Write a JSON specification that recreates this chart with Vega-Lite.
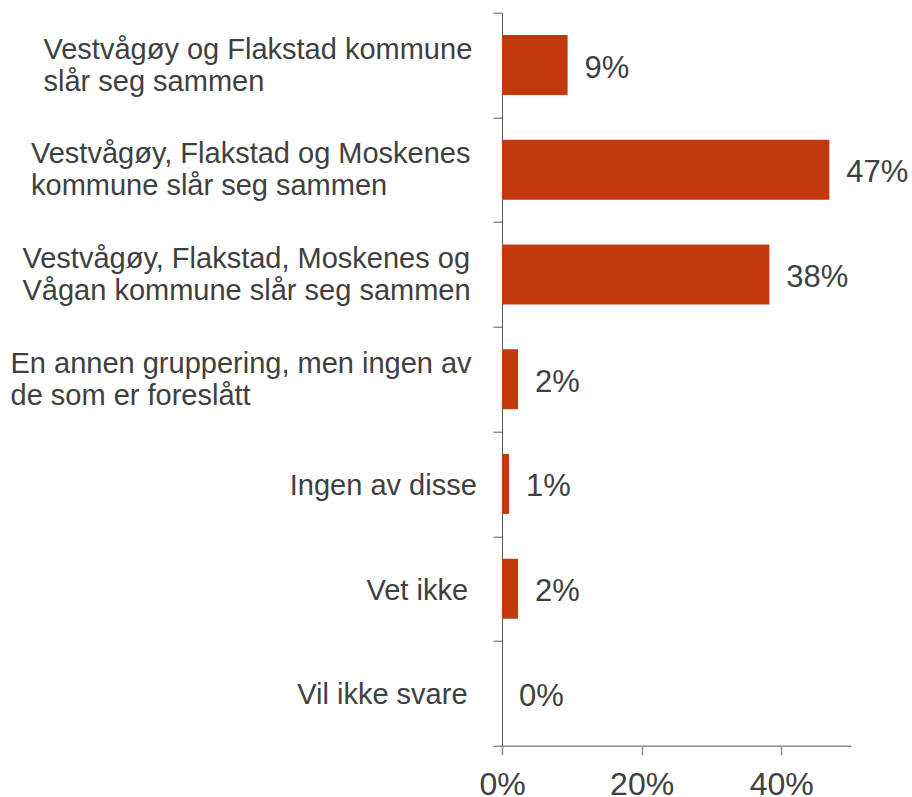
{
  "$schema": "https://vega.github.io/schema/vega-lite/v6.json",
  "width": 349,
  "height": 733,
  "autosize": {"type": "none"},
  "padding": {"left": 502, "top": 12.7, "right": 61, "bottom": 51.3},
  "background": "white",
  "config": {"view": {"stroke": null}, "font": "Liberation Sans"},
  "data": {
    "values": [
      {"kategori": "Vestvågøy og Flakstad kommune|slår seg sammen", "andel": 0.094},
      {"kategori": "Vestvågøy, Flakstad og Moskenes|kommune slår seg sammen", "andel": 0.469},
      {"kategori": "Vestvågøy, Flakstad, Moskenes og|Vågan kommune slår seg sammen", "andel": 0.383},
      {"kategori": "En annen gruppering, men ingen av|de som er foreslått", "andel": 0.023},
      {"kategori": "Ingen av disse", "andel": 0.010},
      {"kategori": "Vet ikke ", "andel": 0.023},
      {"kategori": "Vil ikke svare ", "andel": 0.0}
    ]
  },
  "encoding": {
    "y": {
      "field": "kategori",
      "type": "nominal",
      "sort": null,
      "scale": {"paddingInner": 0, "paddingOuter": 0},
      "axis": {
        "title": null,
        "tickBand": "extent",
        "labelExpr": "split(datum.label, '|')",
        "labelAlign": "left",
        "labelBaseline": "middle",
        "labelPadding": {"expr": "[450, 462.5, 471, 483, 203.7, 127, 196.3][max(0, indexof(['Vestvågøy og Flakstad kommune|slår seg sammen', 'Vestvågøy, Flakstad og Moskenes|kommune slår seg sammen', 'Vestvågøy, Flakstad, Moskenes og|Vågan kommune slår seg sammen', 'En annen gruppering, men ingen av|de som er foreslått', 'Ingen av disse', 'Vet ikke ', 'Vil ikke svare '], datum.value))]"},
        "labelOffset": {"expr": "indexof('' + datum.value, '|') >= 0 ? -16 : 1.5"},
        "labelFont": "Liberation Sans",
        "labelFontSize": 29,
        "labelLineHeight": 32,
        "labelColor": "#404040",
        "labelLimit": 0,
        "labelOverlap": false,
        "labelBound": false,
        "tickSize": 9,
        "tickColor": "#595959",
        "domainColor": "#595959",
        "domainWidth": 1
      }
    },
    "x": {
      "field": "andel",
      "type": "quantitative",
      "scale": {"domain": [0, 0.5], "nice": false},
      "axis": {
        "title": null,
        "values": [0, 0.2, 0.4],
        "format": ".0%",
        "grid": false,
        "tickSize": 9,
        "labelPadding": 15,
        "labelFont": "Liberation Sans",
        "labelFontSize": 32,
        "labelColor": "#404040",
        "labelFlush": false,
        "domainColor": "#8c8c8c",
        "domainWidth": 1.5,
        "tickColor": "#8c8c8c",
        "tickWidth": 1.5
      }
    }
  },
  "layer": [
    {"mark": {"type": "bar", "height": {"band": 0.573}, "color": "#C1390D"}},
    {
      "mark": {"type": "text", "align": "left", "baseline": "middle", "dx": 17, "dy": 3.5, "fontSize": 31, "font": "Liberation Sans", "color": "#404040"},
      "encoding": {"text": {"field": "andel", "format": ".0%"}}
    }
  ]
}
